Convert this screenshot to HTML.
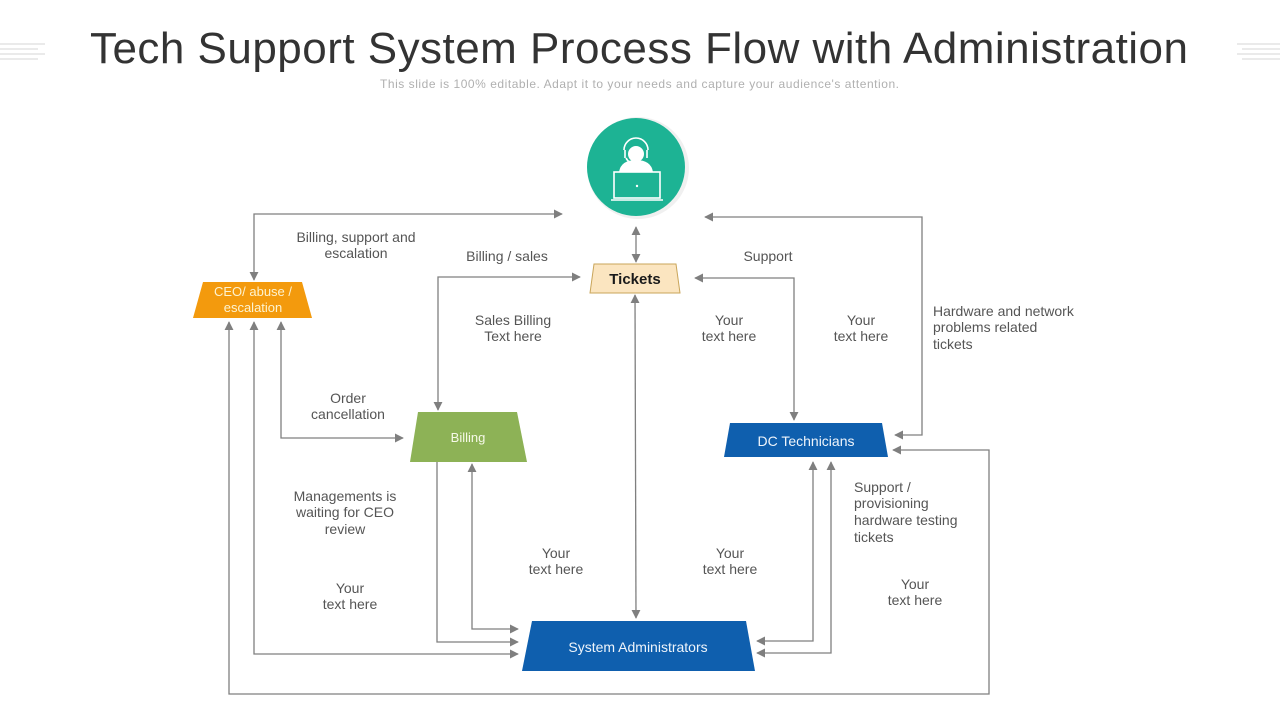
<!DOCTYPE html>
<html><head><meta charset="utf-8"><style>
html,body{margin:0;padding:0;background:#fff;}
body{width:1280px;height:720px;overflow:hidden;position:relative;font-family:"Liberation Sans",Arial,sans-serif;}
svg{position:absolute;left:0;top:0;}
</style></head><body>
<svg width="1280" height="720" viewBox="0 0 1280 720" xmlns="http://www.w3.org/2000/svg" font-family="Liberation Sans, Arial, sans-serif">
<defs>
<marker id="a" viewBox="0 0 10 10" refX="9" refY="5" markerWidth="9" markerHeight="9" markerUnits="userSpaceOnUse" orient="auto-start-reverse">
<path d="M0,0 L10,5 L0,10 z" fill="#7f7f7f"/></marker>
</defs>
<g stroke="#d6d6d6" stroke-width="1">
<line x1="0" y1="44" x2="45" y2="44"/><line x1="0" y1="49" x2="38" y2="49"/><line x1="0" y1="54" x2="45" y2="54"/><line x1="0" y1="59" x2="38" y2="59"/>
<line x1="1237" y1="44" x2="1280" y2="44"/><line x1="1242" y1="49" x2="1280" y2="49"/><line x1="1237" y1="54" x2="1280" y2="54"/><line x1="1242" y1="59" x2="1280" y2="59"/>
</g>
<text x="90" y="63" font-size="44" fill="#333" textLength="1098" lengthAdjust="spacing">Tech Support System Process Flow with Administration</text>
<text x="380" y="88" font-size="12" fill="#b0b0b0" textLength="519" lengthAdjust="spacing">This slide is 100% editable. Adapt it to your needs and capture your audience's attention.</text>

<g stroke="#7f7f7f" stroke-width="1.3" fill="none">
<polyline points="254,280 254,214 562,214" marker-start="url(#a)" marker-end="url(#a)"/>
<line x1="636" y1="227" x2="636" y2="262" marker-start="url(#a)" marker-end="url(#a)"/>
<polyline points="438,410 438,277 580,277" marker-start="url(#a)" marker-end="url(#a)"/>
<polyline points="695,278 794,278 794,420" marker-start="url(#a)" marker-end="url(#a)"/>
<line x1="635" y1="295" x2="636" y2="618" marker-start="url(#a)" marker-end="url(#a)"/>
<polyline points="895,435 922,435 922,217 705,217" marker-start="url(#a)" marker-end="url(#a)"/>
<polyline points="229,322 229,694 989,694 989,450 893,450" marker-start="url(#a)" marker-end="url(#a)"/>
<polyline points="254,322 254,654 518,654" marker-start="url(#a)" marker-end="url(#a)"/>
<polyline points="281,322 281,438 403,438" marker-start="url(#a)" marker-end="url(#a)"/>
<polyline points="437,462 437,642 518,642" marker-end="url(#a)"/>
<polyline points="472,464 472,629 518,629" marker-start="url(#a)" marker-end="url(#a)"/>
<polyline points="813,462 813,641 757,641" marker-start="url(#a)" marker-end="url(#a)"/>
<polyline points="831,462 831,653 757,653" marker-start="url(#a)" marker-end="url(#a)"/>
</g>

<circle cx="638" cy="168" r="51" fill="#e6e6e6" opacity="0.6"/>
<circle cx="636" cy="167" r="49" fill="#1db394"/>
<g stroke="#fff" stroke-width="1.6" fill="none">
<path d="M624,150 a12,12 0 0 1 24,0"/>
<line x1="625" y1="150" x2="625" y2="158"/><line x1="647" y1="150" x2="647" y2="158"/>
<path d="M626,158 q3,6 10,6"/>
<rect x="614" y="172" width="46" height="26"/>
<line x1="611" y1="200" x2="663" y2="200"/>
</g>
<circle cx="636" cy="154" r="8" fill="#fff"/>
<path d="M619,172 q2,-12 17,-12 q15,0 17,12 z" fill="#fff"/>
<circle cx="637" cy="186" r="1.2" fill="#fff"/>

<polygon points="594,264 676,264 680,293 590,293" fill="#fbe5c0" stroke="#c9a55a" stroke-width="1"/>
<text x="635" y="284" text-anchor="middle" font-size="15" font-weight="bold" fill="#1a1a1a">Tickets</text>

<polygon points="203,282 302,282 312,318 193,318" fill="#f39a0d"/>
<text x="253" y="296" text-anchor="middle" font-size="13" fill="#fdf3d0">CEO/ abuse /</text>
<text x="253" y="312" text-anchor="middle" font-size="13" fill="#fdf3d0">escalation</text>

<polygon points="418,412 517,412 527,462 410,462" fill="#8db256"/>
<text x="468" y="442" text-anchor="middle" font-size="13" fill="#f6f9e8">Billing</text>

<polygon points="730,423 882,423 888,457 724,457" fill="#0f5fae"/>
<text x="806" y="446" text-anchor="middle" font-size="14" fill="#eef4fb">DC Technicians</text>

<polygon points="532,621 746,621 755,671 522,671" fill="#0f5fae"/>
<text x="638" y="652" text-anchor="middle" font-size="14" fill="#eef4fb">System Administrators</text>

<g font-size="14" fill="#555" text-anchor="middle">
<text x="356" y="242">Billing, support and</text><text x="356" y="258">escalation</text>
<text x="507" y="261">Billing / sales</text>
<text x="768" y="261">Support</text>
<text x="513" y="325">Sales Billing</text><text x="513" y="341">Text here</text>
<text x="729" y="325">Your</text><text x="729" y="341">text here</text>
<text x="861" y="325">Your</text><text x="861" y="341">text here</text>
<text x="348" y="403">Order</text><text x="348" y="419">cancellation</text>
<text x="345" y="501">Managements is</text><text x="345" y="517">waiting for CEO</text><text x="345" y="534">review</text>
<text x="350" y="593">Your</text><text x="350" y="609">text here</text>
<text x="556" y="558">Your</text><text x="556" y="574">text here</text>
<text x="730" y="558">Your</text><text x="730" y="574">text here</text>
<text x="915" y="589">Your</text><text x="915" y="605">text here</text>
</g>
<g font-size="14" fill="#555">
<text x="933" y="316">Hardware and network</text><text x="933" y="332">problems related</text><text x="933" y="349">tickets</text>
<text x="854" y="492">Support /</text><text x="854" y="508">provisioning</text><text x="854" y="525">hardware testing</text><text x="854" y="542">tickets</text>
</g>
</svg>
</body></html>
